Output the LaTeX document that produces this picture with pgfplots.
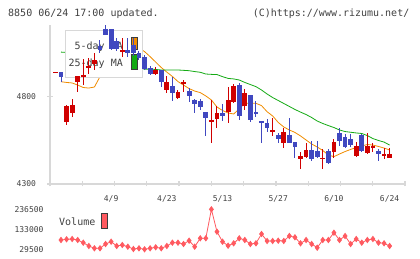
\documentclass[border=0pt]{standalone}
\usepackage{pgfplots}
\pgfplotsset{compat=1.18}
\usepackage{pgfplotstable}
\usepackage{fontspec}
\setmainfont{DejaVu Sans Mono}

\definecolor{cred}{RGB}{208,0,0}
\definecolor{cblue}{RGB}{64,72,192}
\definecolor{corange}{RGB}{240,140,0}
\definecolor{cgreen}{RGB}{20,170,20}
\definecolor{cvol}{RGB}{255,90,96}
\definecolor{cgrid}{RGB}{216,216,216}
\definecolor{ctext}{RGB}{64,64,64}
\definecolor{cdark}{RGB}{60,60,60}

% daily prices: index, open, high, low, close
\pgfplotstableread{
i  o    h    l    c
-1 4933 4941 4933 4941
1  4655 4750 4636 4745
2  4706 4785 4684 4750
3  4883 4917 4826 4917
4  4910 5013 4864 4921
5  4961 5018 4927 4973
6  4984 5047 4950 5007
11 5050 5134 5024 5064
17 4925 4967 4921 4950
19 4836 4916 4817 4880
21 4793 4836 4785 4824
22 4868 4893 4824 4883
27 4657 4779 4535 4665
28 4671 4745 4621 4706
30 4708 4855 4646 4779
31 4770 4870 4762 4859
33 4746 4842 4722 4817
38 4595 4676 4574 4608
40 4535 4619 4505 4595
43 4443 4484 4386 4460
44 4456 4534 4448 4494
47 4441 4500 4386 4450
49 4481 4557 4448 4538
53 4461 4539 4454 4517
55 4475 4589 4469 4517
56 4509 4534 4482 4518
58 4461 4505 4443 4469
59 4450 4505 4448 4473
}\upbars

\pgfplotstableread{
i  o    h    l    c
0  4937 4937 4883 4912
7  5089 5121 5047 5064
8  5182 5206 5149 5149
9  5182 5182 5065 5070
10 5115 5132 5058 5072
12 5064 5134 5026 5047
13 5092 5132 5030 5047
14 5047 5058 5007 5021
15 5024 5035 4950 4956
16 4959 4973 4921 4925
18 4950 4950 4853 4880
20 4859 4912 4775 4817
23 4830 4847 4767 4803
24 4779 4785 4706 4754
25 4773 4785 4722 4741
26 4709 4709 4575 4678
29 4703 4756 4659 4689
32 4864 4876 4665 4689
34 4807 4807 4653 4665
35 4712 4775 4684 4697
36 4659 4659 4535 4646
37 4646 4670 4598 4617
39 4579 4591 4535 4557
41 4579 4676 4531 4535
42 4541 4541 4450 4509
45 4494 4545 4433 4443
46 4488 4545 4448 4456
48 4488 4497 4414 4418
50 4592 4619 4517 4545
51 4566 4585 4503 4513
52 4557 4585 4509 4522
54 4579 4585 4482 4488
57 4488 4500 4433 4469
}\downbars

% daily volume
\pgfplotstableread{
i v
0 77600
1 81250
2 82800
3 77600
4 63700
5 46600
6 34700
7 34700
8 56900
9 68800
10 46600
11 51700
12 43000
13 31000
14 34700
15 29500
16 34700
17 39900
18 34700
19 46600
20 63700
21 63700
22 56900
23 74000
24 43000
25 86400
26 86400
27 236500
28 120600
29 68800
30 48100
31 60500
32 86400
33 77600
34 56900
35 60500
36 108700
37 72500
38 72500
39 74000
40 72500
41 98300
42 91600
43 60500
44 77600
45 56900
46 37800
47 77600
48 77600
49 115400
50 77600
51 98300
52 56900
53 82800
54 63700
55 77600
56 82800
57 63700
58 60500
59 46600
}\volume

\pgfplotsset{
  candle/.style 2 args={only marks, mark=*, mark size=0pt,
    mark options={draw=none, fill=none},
    error bars/.cd, y dir=both, y explicit, error mark=none,
    error bar style={draw=#1, line width=#2}},
}

\begin{document}
\begin{tikzpicture}[font=\fontsize{10bp}{12bp}\selectfont]
\path[use as bounding box] (0,0) rectangle (420bp,259bp);

\node[anchor=base west, text=ctext, inner sep=0pt] at (8bp,242.3bp) {8850 06/24 17:00 updated.};
\node[anchor=base east, text=ctext, inner sep=0pt] at (409.5bp,242.3bp) {(C)https://www.rizumu.net/};

\begin{axis}[
  at={(50bp,75bp)}, anchor=south west,
  width=355bp, height=159bp, scale only axis,
  xmin=-1.975, xmax=61.76, ymin=4300, ymax=5206.5,
  clip=false,
  axis x line*=bottom, axis y line*=left,
  x axis line style={-}, y axis line style={-},
  axis line style={draw=cgrid, line width=1.2bp},
  xtick={-1.975,3.819,9.613,15.407,21.201,26.995,32.789,38.583,44.377,50.171,55.965,61.759},
  xticklabels={},
  extra x ticks={9,19,29,39,49,59},
  extra x tick labels={4/9,4/23,5/13,5/27,6/10,6/24},
  extra x tick style={major tick length=0pt},
  ytick={4300,4800}, yticklabels={4300,4800},
  tick align=center, major tick length=5bp,
  tick style={draw=cgrid, line width=1.2bp},
  ticklabel style={font=\fontsize{8bp}{9bp}\selectfont, text=ctext},
  xticklabel style={yshift=-8bp},
  yticklabel style={xshift=-8bp},
]
% moving averages
\addplot[corange, line width=0.8bp, mark=none] coordinates {
(0,4883) (1,4879) (2,4876) (3,4864) (4,4850) (5,4847) (6,4853) (7,4912) (8,4975)};
\addplot[corange, line width=0.8bp, mark=none] coordinates {
(14,5075) (15,5055) (16,5026) (17,4995) (18,4964) (19,4938) (20,4913) (21,4884)
(22,4864) (23,4844) (24,4830) (25,4821) (26,4802) (27,4779) (28,4739) (29,4719)
(30,4705) (31,4699) (32,4728) (33,4760) (34,4760) (35,4760) (36,4747) (37,4712)
(38,4688) (39,4651) (40,4625) (41,4608) (42,4594) (43,4574) (44,4551) (45,4528)
(46,4511) (47,4491) (48,4465) (49,4456) (50,4471) (51,4485) (52,4497) (53,4508)
(54,4517) (55,4525) (56,4522) (57,4514) (58,4505) (59,4494)};
\addplot[cgreen, line width=0.8bp, mark=none] coordinates {
(0,5052) (1,5050) (2,5048)};
\addplot[cgreen, line width=0.8bp, mark=none] coordinates {
(14,4956) (15,4955) (16,4955) (17,4953) (18,4950) (19,4950) (20,4950) (21,4950)
(22,4948) (23,4946) (24,4941) (25,4937) (26,4927) (27,4925) (28,4924) (29,4912)
(30,4902) (31,4899) (32,4893) (33,4879) (34,4867) (35,4855) (36,4836) (37,4813)
(38,4793) (39,4776) (40,4759) (41,4742) (42,4725) (43,4710) (44,4696) (45,4679)
(46,4659) (47,4645) (48,4633) (49,4622) (50,4608) (51,4599) (52,4595) (53,4591)
(54,4588) (55,4576) (56,4559) (57,4548) (58,4539) (59,4522)};

% legend box
\filldraw[fill=white, draw=cgrid, line width=1bp] (0.844,4910) rectangle (14.72,5177.9);
\node[anchor=base east, text=ctext, inner sep=0pt] at (11.13,5069.6) {5-day MA};
\node[anchor=base east, text=ctext, inner sep=0pt] at (11.13,4971.0) {25-day MA};
\filldraw[fill=corange, draw=cdark, line width=0.9bp] (12.62,5068.0) rectangle (13.77,5136.4);
\filldraw[fill=cgreen, draw=cdark, line width=0.9bp] (12.62,4953.9) rectangle (13.77,5041.1);

% candles: wicks then bodies
\addplot[candle={cred}{1bp}]
  table[x=i, y expr={0.5*(\thisrow{h}+\thisrow{l})}, y error expr={0.5*(\thisrow{h}-\thisrow{l})}] {\upbars};
\addplot[candle={cred}{4.8bp}]
  table[x=i, y expr={0.5*(\thisrow{o}+\thisrow{c})}, y error expr={0.5*(\thisrow{c}-\thisrow{o})}] {\upbars};
\addplot[candle={cblue}{1bp}]
  table[x=i, y expr={0.5*(\thisrow{h}+\thisrow{l})}, y error expr={0.5*(\thisrow{h}-\thisrow{l})}] {\downbars};
\addplot[candle={cblue}{4.8bp}]
  table[x=i, y expr={0.5*(\thisrow{o}+\thisrow{c})}, y error expr={0.5*(\thisrow{o}-\thisrow{c})}] {\downbars};
\end{axis}

\begin{axis}[
  at={(50bp,9.7bp)}, anchor=south west,
  width=355bp, height=40bp, scale only axis,
  xmin=-1.975, xmax=61.76, ymin=29500, ymax=236500,
  clip=false,
  hide x axis,
  axis y line*=left, y axis line style={draw=none},
  scaled y ticks=false,
  ytick={29500,133000,236500}, yticklabels={29500,133000,236500},
  major tick length=0pt,
  ticklabel style={font=\fontsize{8bp}{9bp}\selectfont, text=ctext},
  yticklabel style={xshift=-3bp},
]
\addplot[cvol, line width=0.8bp, mark=diamond*, mark size=2.6bp, mark options={fill=cvol, draw=cvol}]
  table[x=i, y=v] {\volume};
\end{axis}

\node[anchor=base west, text=ctext, inner sep=0pt] at (59bp,33.4bp) {Volume};
\filldraw[fill=cvol, draw=cdark, line width=0.9bp] (101.5bp,30.7bp) rectangle (107.5bp,45.7bp);
\end{tikzpicture}
\end{document}
